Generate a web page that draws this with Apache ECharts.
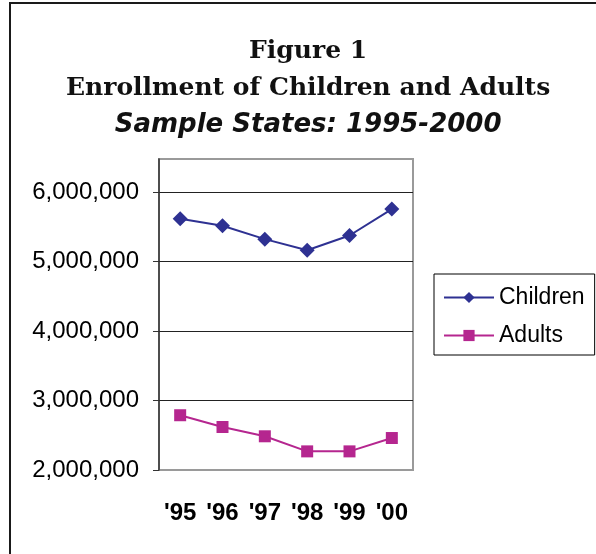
<!DOCTYPE html>
<html>
<head>
<meta charset="utf-8">
<script src="https://cdn.jsdelivr.net/npm/echarts@6/dist/echarts.min.js"></script>
<style>
html,body{margin:0;padding:0;background:#fff;}
#chart{width:596px;height:554px;}
</style>
</head>
<body>
<div id="chart"></div>
<script>
const categories = ["'95", "'96", "'97", "'98", "'99", "'00"];
const children = [5615000, 5515000, 5322000, 5163000, 5374000, 5755000];
const adults = [2788000, 2619000, 2485000, 2268000, 2268000, 2460000];
const yTicks = [2000000, 3000000, 4000000, 5000000, 6000000];
const titleLines = ['Figure 1', 'Enrollment of Children and Adults', 'Sample States: 1995-2000'];

const chart = echarts.init(document.getElementById('chart'), null, {renderer: 'canvas'});
chart.setOption({
  backgroundColor: '#fff',
  animation: false,
  title: {
    left: 66,
    top: 33,
    padding: 0,
    text: '{a|' + titleLines[0] + '}\n{a|' + titleLines[1] + '}\n{b|' + titleLines[2] + '}',
    textStyle: {
      rich: {
        a: {fontFamily: 'DejaVu Serif', fontWeight: 'bold', fontSize: 25, color: '#111', lineHeight: 37, align: 'center'},
        b: {fontFamily: 'DejaVu Sans', fontWeight: 'bold', fontStyle: 'italic', fontSize: 26, color: '#111', lineHeight: 37, align: 'center'}
      }
    }
  },
  graphic: [{
    type: 'rect', silent: true, z: -1,
    shape: {x: 10, y: 3, width: 800, height: 800},
    style: {fill: 'none', stroke: '#1a1a1a', lineWidth: 2}
  }],
  legend: {
    orient: 'vertical',
    left: 434, top: 274,
    padding: [12, 10, 8, 9],
    itemGap: 15,
    itemWidth: 50, itemHeight: 14,
    borderColor: '#000', borderWidth: 1,
    textStyle: {fontFamily: 'Liberation Sans, Arial', fontSize: 23, color: '#000'},
    data: ['Children', 'Adults']
  },
  grid: {
    left: 159, right: 183, top: 159, bottom: 84,
    show: true, borderColor: '#9a9a9a', borderWidth: 2, backgroundColor: '#fff'
  },
  xAxis: {
    type: 'category',
    data: categories,
    boundaryGap: true,
    axisLine: {show: false},
    axisTick: {show: false},
    axisLabel: {fontFamily: 'Liberation Sans, Arial', fontWeight: 'bold', fontSize: 24, color: '#000', margin: 31}
  },
  yAxis: {
    type: 'value',
    min: 2000000, max: 6475000, interval: 1000000,
    axisLine: {show: true, lineStyle: {color: '#333', width: 1.5}},
    axisTick: {show: true, inside: false, length: 6, lineStyle: {color: '#333'}, customValues: yTicks},
    axisLabel: {
      customValues: yTicks,
      fontFamily: 'Liberation Sans, Arial', fontSize: 24, color: '#000', margin: 20,
      formatter: v => v.toLocaleString('en-US')
    },
    splitLine: {show: true, showMinLine: false, showMaxLine: true, lineStyle: {color: '#222', width: 1}}
  },
  series: [{
    name: 'Children', type: 'line', data: children,
    symbol: 'diamond', symbolSize: 15,
    itemStyle: {color: '#2e3192'},
    lineStyle: {color: '#2e3192', width: 2}
  }, {
    name: 'Adults', type: 'line', data: adults,
    symbol: 'rect', symbolSize: 12,
    itemStyle: {color: '#b5268f'},
    lineStyle: {color: '#b5268f', width: 2}
  }]
});
</script>
</body>
</html>
